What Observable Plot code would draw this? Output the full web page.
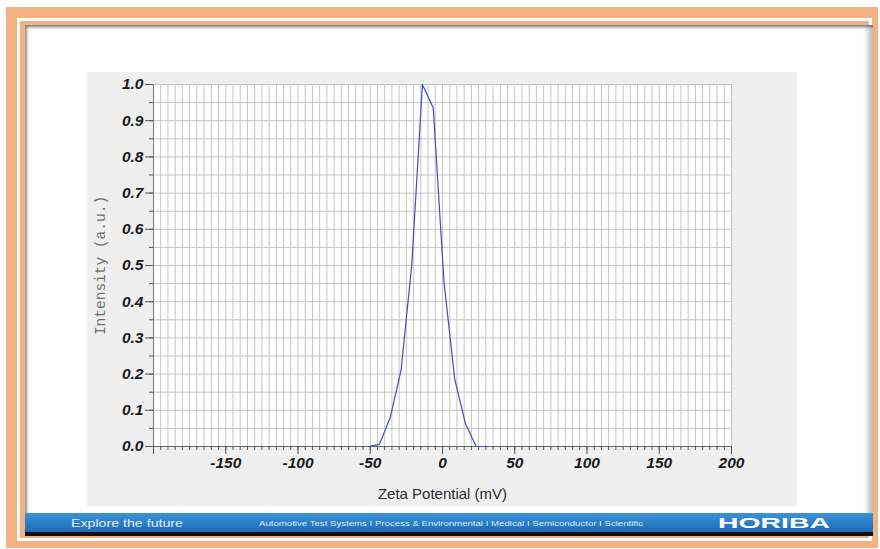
<!DOCTYPE html>
<html>
<head>
<meta charset="utf-8">
<script src="https://cdn.jsdelivr.net/npm/d3@7"></script>
<script src="https://cdn.jsdelivr.net/npm/@observablehq/plot@0.6"></script>
<style>
  html, body { margin: 0; padding: 0; background: #fff; }
  #page { position: relative; width: 880px; height: 549px; overflow: hidden; background: #fff; font-family: "Liberation Sans", Arial, sans-serif; }
  .abs { position: absolute; }
  #orange { left: 6px; top: 7px; width: 872px; height: 541px; background: #f4b183; }
  #whiteline { left: 17px; top: 18px; width: 849px; height: 517px; border: 3.5px solid #fff; }
  #slide { left: 25px; top: 25px; width: 848px; height: 511px; background: #fff; box-shadow: inset 2px 2px 3px rgba(0,0,0,0.45), inset -5px 0 5px rgba(0,0,0,0.25); }
  #panel { left: 87px; top: 72px; width: 710px; height: 434px; background: #efefef; }
  #panel svg { display: block; }
  #footer { left: 25px; top: 513px; width: 848px; height: 19px; background: linear-gradient(#3b93da, #1b6db5); }
  #blackbar { left: 25px; top: 532px; width: 848px; height: 4px; background: #111; }
  #footer svg { position: absolute; left: 0; top: 0; }
</style>
</head>
<body>
<div id="page">
  <div id="orange" class="abs"></div>
  <div id="whiteline" class="abs"></div>
  <div id="slide" class="abs"></div>
  <div id="panel" class="abs"></div>
  <div id="footer" class="abs">
    <svg width="848" height="19">
      <text x="46" y="13.5" fill="#e4ecf6" font-size="11" textLength="112" lengthAdjust="spacingAndGlyphs" font-family="Liberation Sans, Arial, sans-serif">Explore the future</text>
      <text x="234" y="12.5" fill="#dfe8f3" font-size="7.5" textLength="384" lengthAdjust="spacingAndGlyphs" font-family="Liberation Sans, Arial, sans-serif">Automotive Test Systems  I  Process &amp; Environmental  I  Medical  I  Semiconductor  I  Scientific</text>
      <text x="693" y="15" fill="#ffffff" font-size="15" font-weight="900" textLength="112" lengthAdjust="spacingAndGlyphs" font-family="Liberation Sans, Arial, sans-serif">HORIBA</text>
    </svg>
  </div>
  <div id="blackbar" class="abs"></div>
</div>
<script>
// Data
const zeta = [-51.0, -43.6, -36.2, -28.7, -21.3, -13.9, -6.4, 1.0, 8.4, 15.9, 23.3, 30.7];
const intensity = [0, 0.006, 0.08, 0.21, 0.50, 1.0, 0.935, 0.456, 0.187, 0.063, 0, 0];
const xTickLabels = [-150, -100, -50, 0, 50, 100, 150, 200];
const yTickLabels = [0, 0.1, 0.2, 0.3, 0.4, 0.5, 0.6, 0.7, 0.8, 0.9, 1.0];
const xMajor = [-200, -150, -100, -50, 0, 50, 100, 150, 200];
const xMinor = d3.range(-200, 201, 5);
const yMinor = d3.range(0, 1.0001, 0.05);
const xTitle = "Zeta Potential (mV)";
const yTitle = "Intensity (a.u.)";

const data = zeta.map((z, i) => ({z, v: intensity[i]}));
const tickFont = {fontSize: 15.5, fontWeight: "bold", fontStyle: "italic", fontFamily: "Liberation Sans, Arial, sans-serif", fill: "#1a1a1a"};

const chart = Plot.plot({
  width: 710,
  height: 434,
  marginLeft: 66,
  marginRight: 66,
  marginTop: 12,
  marginBottom: 60,
  style: {background: "transparent", overflow: "visible"},
  x: {domain: [-200, 200]},
  y: {domain: [0, 1]},
  marks: [
    Plot.frame({fill: "#fff", stroke: null}),
    Plot.ruleX(xMinor, {stroke: "#c4c4c4", strokeWidth: 1}),
    Plot.ruleY(yMinor, {stroke: "#c4c4c4", strokeWidth: 1}),
    Plot.ruleY([0], {stroke: "#666", strokeWidth: 1}),
    Plot.ruleX([-200], {stroke: "#777", strokeWidth: 1}),
    Plot.axisX(xMinor, {tickSize: 4, tickFormat: () => "", stroke: "#555", label: null}),
    Plot.axisX(xMajor, {tickSize: 8, tickFormat: () => "", stroke: "#555", label: null}),
    Plot.axisX(xTickLabels, {tickSize: 0, tickPadding: 10, tickFormat: d => String(d), label: null, ...tickFont}),
    Plot.axisY(yMinor, {tickSize: 4, tickFormat: () => "", stroke: "#555", label: null}),
    Plot.axisY(yTickLabels, {tickSize: 8, tickPadding: 2, tickFormat: d3.format(".1f"), stroke: "#555", label: null, ...tickFont}),
    Plot.line(data, {x: "z", y: "v", stroke: "#4848c6", strokeWidth: 1.2}),
    Plot.text([xTitle], {frameAnchor: "bottom", dy: 48, lineAnchor: "middle", textAnchor: "middle", fontSize: 15, fill: "#2a2a2a", fontFamily: "Liberation Sans, Arial, sans-serif"}),
    Plot.text([yTitle], {frameAnchor: "left", dx: -53, rotate: -90, lineAnchor: "middle", textAnchor: "middle", fontSize: 14.5, fill: "#6e6e6e", fontFamily: "Liberation Mono, DejaVu Sans Mono, monospace"})
  ]
});
document.getElementById("panel").appendChild(chart);
</script>
</body>
</html>
